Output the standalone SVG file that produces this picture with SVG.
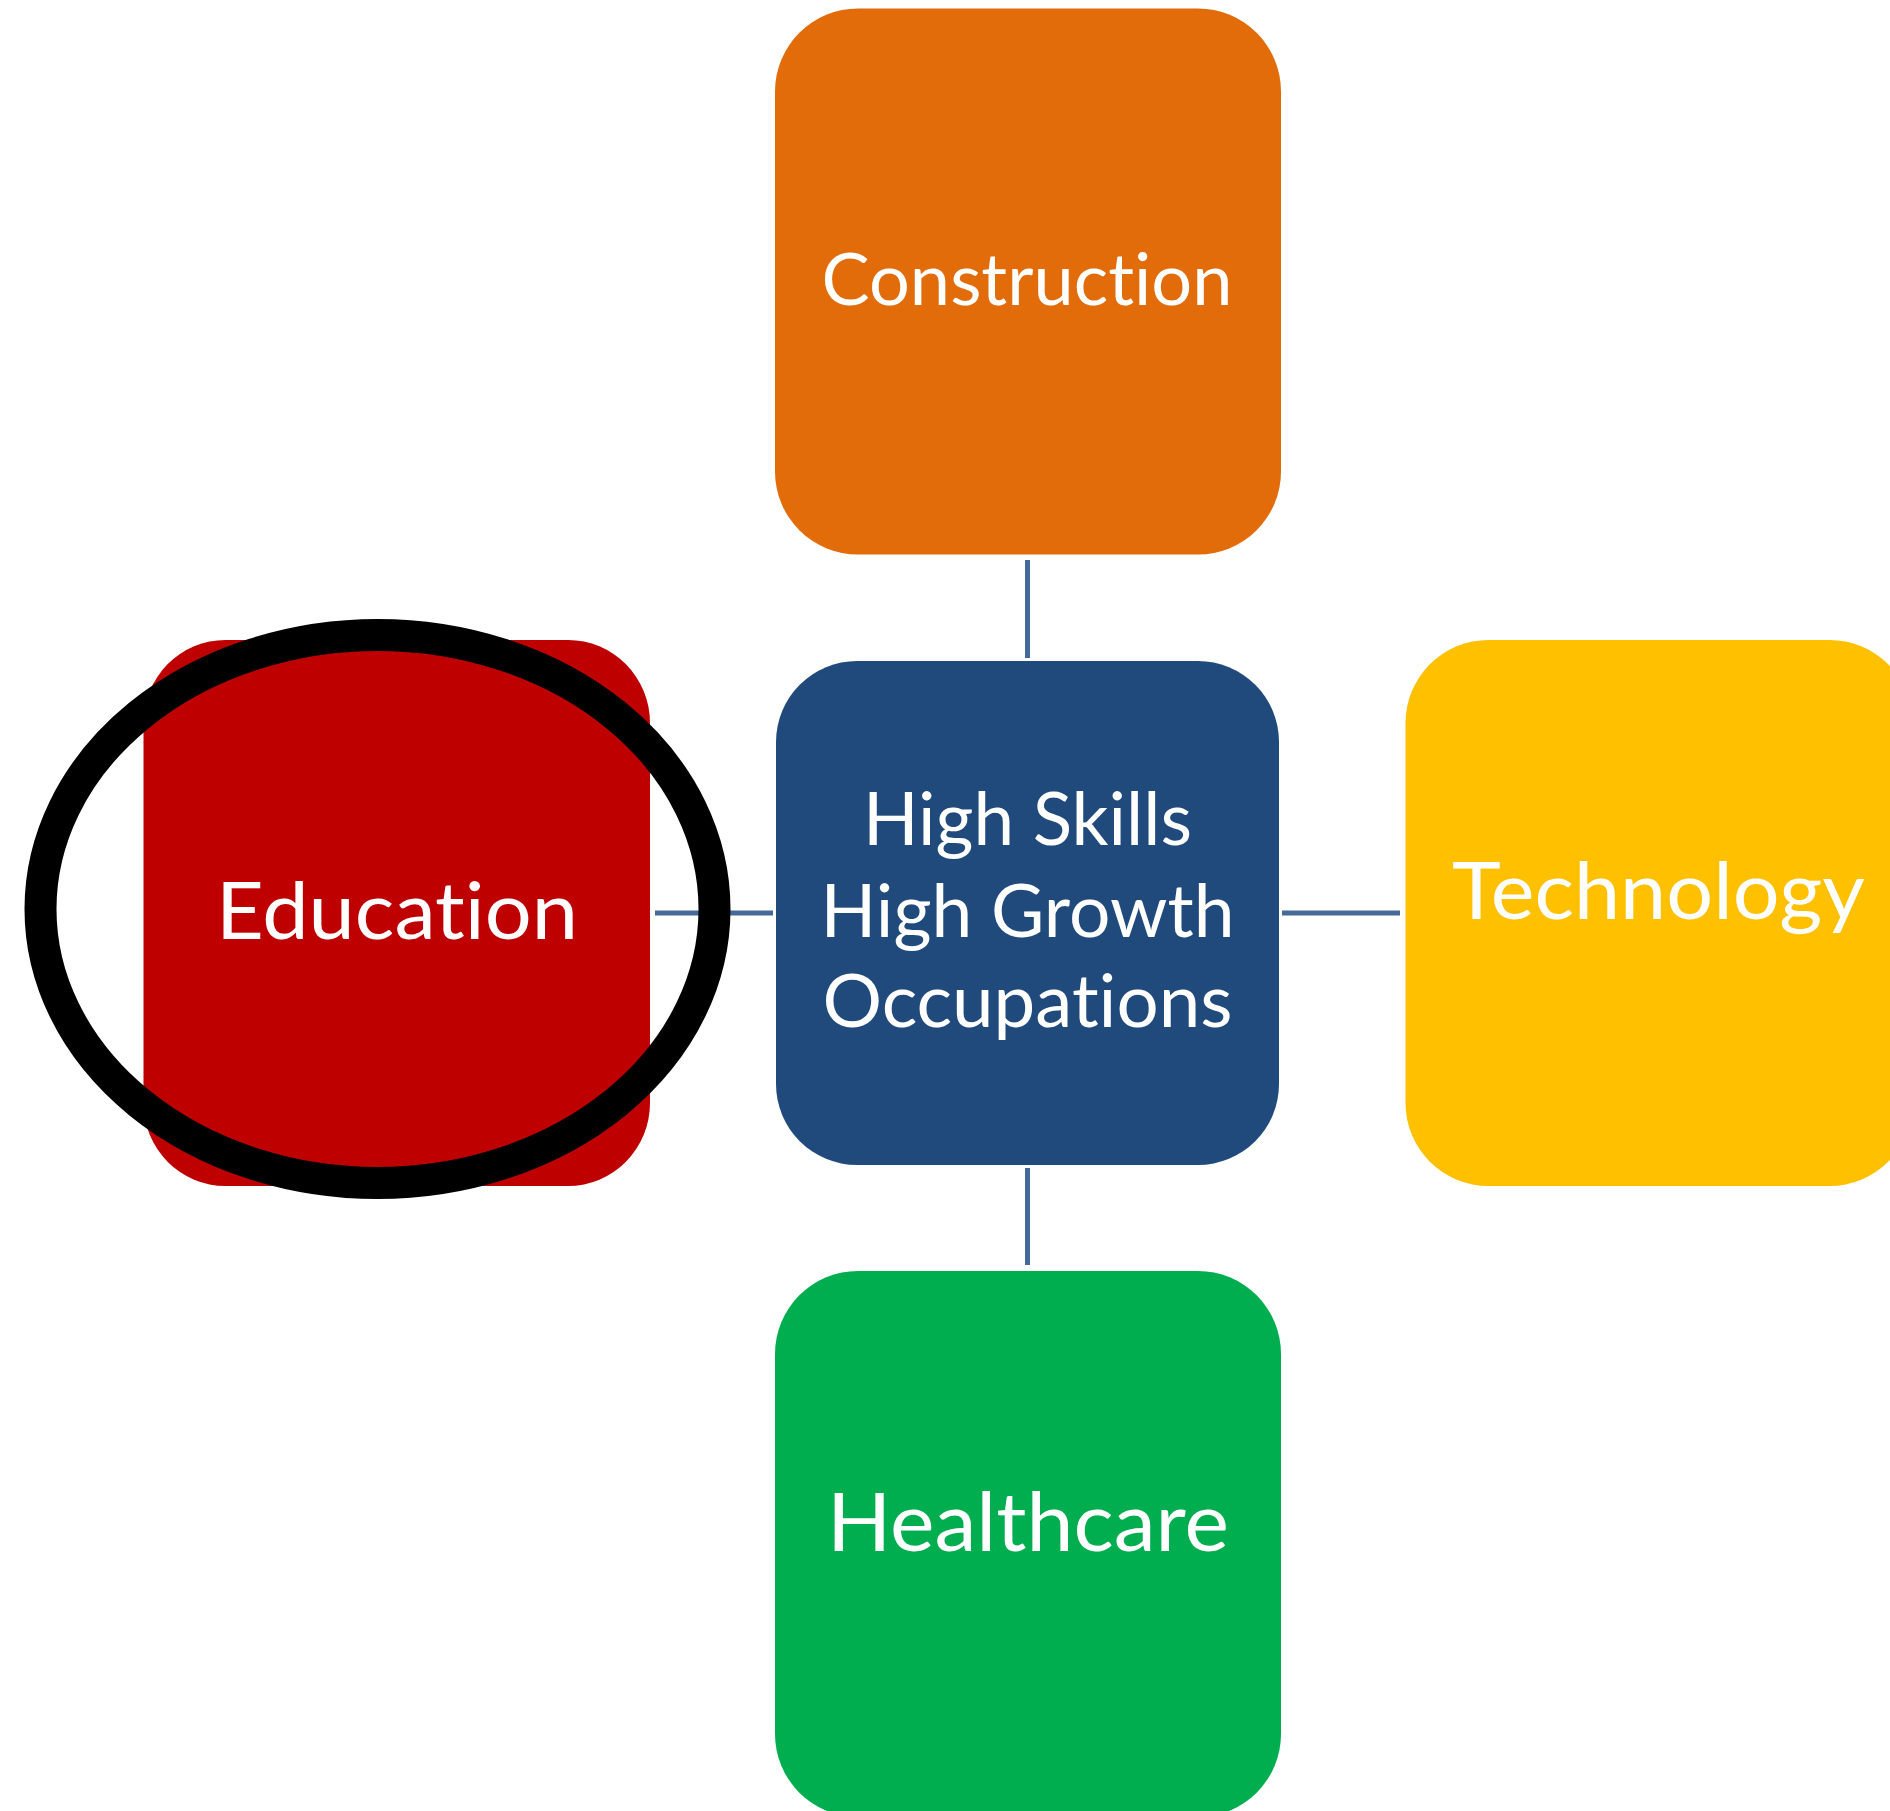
<svg xmlns="http://www.w3.org/2000/svg" width="1890" height="1811" viewBox="0 0 1890 1811">
<style>
.box{stroke:none}
.lbl{fill:#FFFFFF;font-family:Lato,"Open Sans","Liberation Sans",sans-serif;text-anchor:middle;font-variant-ligatures:none;font-feature-settings:"liga" 0,"dlig" 0,"clig" 0}
.conn{stroke:#446A9A;stroke-width:5;fill:none}
</style>
<rect x="0" y="0" width="1890" height="1811" fill="#FFFFFF"/>
<g id="connectors">
<line class="conn" x1="1027.5" y1="560" x2="1027.5" y2="658"/>
<line class="conn" x1="655" y1="913" x2="773" y2="913"/>
<line class="conn" x1="1282" y1="913" x2="1400" y2="913"/>
<line class="conn" x1="1027.5" y1="1168" x2="1027.5" y2="1265"/>
</g>
<g id="node-construction">
<rect class="box" x="775" y="8.5" width="506" height="546" rx="83" ry="83" fill="#E36C0A"/>
<text class="lbl" x="1027" y="305" font-size="71" textLength="411" lengthAdjust="spacingAndGlyphs">Construction</text>
</g>
<g id="node-center">
<rect class="box" x="776" y="661" width="503" height="504" rx="81" ry="81" fill="#214A7C"/>
<text class="lbl" x="1027.5" y="845" font-size="73" textLength="329" lengthAdjust="spacingAndGlyphs">High Skills</text>
<text class="lbl" x="1027.5" y="936.5" font-size="73" textLength="414" lengthAdjust="spacingAndGlyphs">High Growth</text>
<text class="lbl" x="1027.5" y="1027" font-size="73" textLength="410" lengthAdjust="spacingAndGlyphs">Occupations</text>
</g>
<g id="node-technology">
<rect class="box" x="1405.5" y="640" width="507" height="546" rx="83" ry="83" fill="#FFC000"/>
<text class="lbl" x="1658.5" y="918.5" font-size="79" textLength="413" lengthAdjust="spacingAndGlyphs">Technology</text>
</g>
<g id="node-healthcare">
<rect class="box" x="775" y="1271" width="506" height="546" rx="83" ry="83" fill="#00AE50"/>
<text class="lbl" x="1028" y="1550.5" font-size="82" textLength="402" lengthAdjust="spacingAndGlyphs">Healthcare</text>
</g>
<g id="node-education">
<rect class="box" x="143.5" y="640" width="506.5" height="546" rx="82" ry="83" fill="#BF0000"/>
<text class="lbl" x="397" y="939" font-size="80" textLength="362" lengthAdjust="spacingAndGlyphs">Education</text>
</g>
<g id="highlight-ellipse">
<ellipse cx="377.5" cy="909" rx="337" ry="274" fill="none" stroke="#000000" stroke-width="32"/>
</g>
</svg>
